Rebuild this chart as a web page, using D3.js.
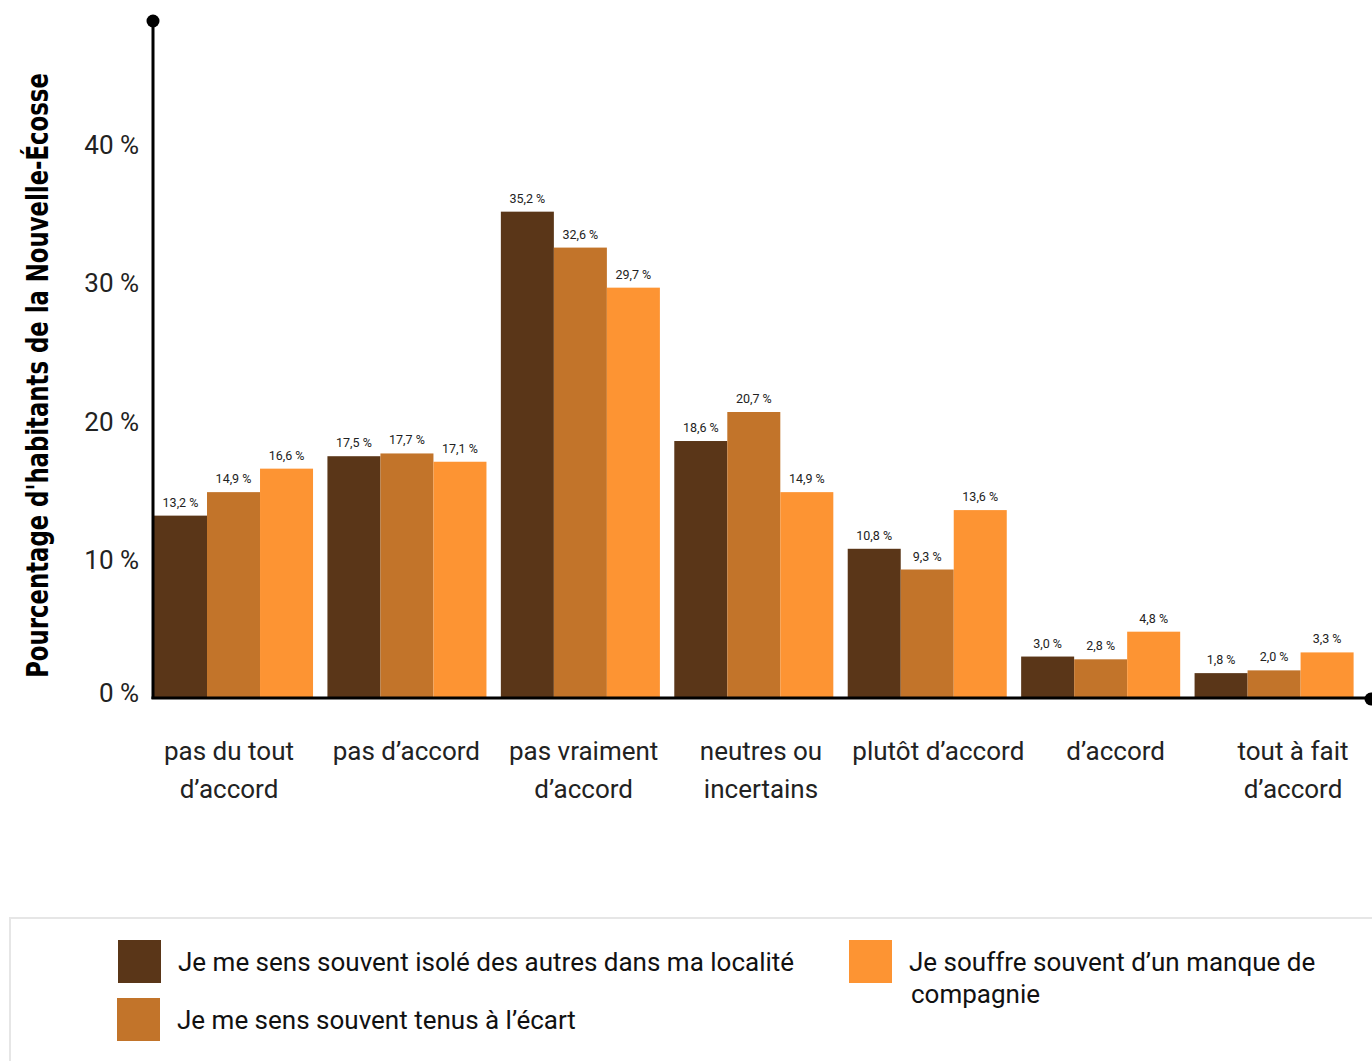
<!DOCTYPE html>
<html><head><meta charset="utf-8">
<script src="https://cdn.jsdelivr.net/npm/d3@7"></script>
<style>
html,body{margin:0;padding:0;background:#fff;}
svg{display:block;font-family:Roboto,"Noto Sans",sans-serif;}
</style></head>
<body><svg id="c" width="1372" height="1061"></svg>
<script>
const categories = [["pas du tout","d’accord"],["pas d’accord"],["pas vraiment","d’accord"],["neutres ou","incertains"],["plutôt d’accord"],["d’accord"],["tout à fait","d’accord"]];
const seriesNames = [["Je me sens souvent isolé des autres dans ma localité"],["Je me sens souvent tenus à l’écart"],["Je souffre souvent d’un manque de","compagnie"]];
const isole = [13.2, 17.5, 35.2, 18.6, 10.8, 3.0, 1.8];
const ecart = [14.9, 17.7, 32.6, 20.7, 9.3, 2.8, 2.0];
const manque = [16.6, 17.1, 29.7, 14.9, 13.6, 4.8, 3.3];
const yTicks = [0, 10, 20, 30, 40];
const yTitle = "Pourcentage d'habitants de la Nouvelle-Écosse";
const colors = ["#5a3618", "#c2742a", "#fd9433"];

const series = [isole, ecart, manque];
const svg = d3.select("#c");
const fr = d3.formatLocale({decimal: ",", thousands: " ", grouping: [3], currency: ["", " €"]});
const f1 = fr.format(".1f");

const x0 = 153, yBase = 698, yTop = 21, xEnd = 1369;
const y = d3.scaleLinear().domain([0, 49]).range([yBase, yTop]);
const x = d3.scaleBand().domain(d3.range(categories.length)).range([154, 1368])
  .paddingInner(0.083).paddingOuter(0.0415).align(0);
const xs = d3.scaleBand().domain(d3.range(series.length)).range([0, x.bandwidth()]);
// label positions (labels are spread slightly wider than the bar groups)
const xLab = d3.scalePoint().domain(d3.range(categories.length)).range([229, 1293]);

// bars
series.forEach((vals, si) => {
  const g = svg.append("g");
  g.selectAll("rect").data(vals).enter().append("rect")
    .attr("x", (d, i) => x(i) + xs(si))
    .attr("y", d => y(d))
    .attr("width", xs.bandwidth())
    .attr("height", d => yBase - y(d))
    .attr("fill", colors[si]);
  g.selectAll("text").data(vals).enter().append("text")
    .attr("x", (d, i) => x(i) + xs(si) + xs.bandwidth() / 2)
    .attr("y", d => y(d) - 9)
    .attr("text-anchor", "middle")
    .attr("font-size", 12.5)
    .attr("fill", "#222")
    .text(d => f1(d) + " %");
});

// axes lines
svg.append("line").attr("x1", x0).attr("x2", x0).attr("y1", yTop).attr("y2", yBase + 1)
  .attr("stroke", "#000").attr("stroke-width", 3);
svg.append("line").attr("x1", x0 - 1.5).attr("x2", xEnd).attr("y1", yBase).attr("y2", yBase)
  .attr("stroke", "#000").attr("stroke-width", 3);
svg.append("circle").attr("cx", x0).attr("cy", yTop).attr("r", 6.5).attr("fill", "#000");
svg.append("circle").attr("cx", xEnd + 2).attr("cy", yBase + 1).attr("r", 6.5).attr("fill", "#000");

// y axis ticks
const ya = svg.append("g").attr("transform", `translate(${x0},0)`)
  .call(d3.axisLeft(y).tickValues(yTicks).tickSize(0).tickPadding(14).tickFormat(d => d + " %"));
ya.select(".domain").remove();
ya.selectAll("text").attr("font-size", 26).attr("fill", "#222")
  .attr("font-family", "Roboto, sans-serif")
  .attr("dy", d => d === 0 ? "0.12em" : "0.32em");

// y title (condensed by a horizontal scale so that it spans the same length)
const title = svg.append("text")
  .attr("text-anchor", "middle")
  .attr("font-family", "'Liberation Sans Narrow','DejaVu Sans Condensed','Roboto',sans-serif")
  .attr("font-weight", "bold")
  .attr("font-size", 31)
  .attr("fill", "#000")
  .text(yTitle);
const natural = title.node().getComputedTextLength();
const sx = 605 / natural;
title.attr("transform", `translate(48,${(73 + 678) / 2}) rotate(-90) scale(${sx},1)`);

// x labels
const xl = svg.append("g");
categories.forEach((lines, i) => {
  const t = xl.append("text")
    .attr("x", xLab(i))
    .attr("y", 760)
    .attr("text-anchor", "middle")
    .attr("font-size", 26)
    .attr("fill", "#222");
  lines.forEach((ln, j) => {
    t.append("tspan").attr("x", xLab(i)).attr("dy", j === 0 ? 0 : 38).text(ln);
  });
});

// legend
svg.append("rect").attr("x", 10).attr("y", 918).attr("width", 1400).attr("height", 200)
  .attr("fill", "#fff").attr("stroke", "#e6e6e6").attr("stroke-width", 2);
const legPos = [[118, 940], [117, 998], [849, 940]];
seriesNames.forEach((lines, si) => {
  const [lx, ly] = legPos[si];
  svg.append("rect").attr("x", lx).attr("y", ly).attr("width", 43).attr("height", 43).attr("fill", colors[si]);
  const t = svg.append("text").attr("x", lx + 60).attr("y", ly + 31)
    .attr("font-size", 26).attr("fill", "#111");
  lines.forEach((ln, j) => {
    t.append("tspan").attr("x", lx + 60 + (j ? 2 : 0)).attr("dy", j === 0 ? 0 : 32).text(ln);
  });
});
</script></body></html>
